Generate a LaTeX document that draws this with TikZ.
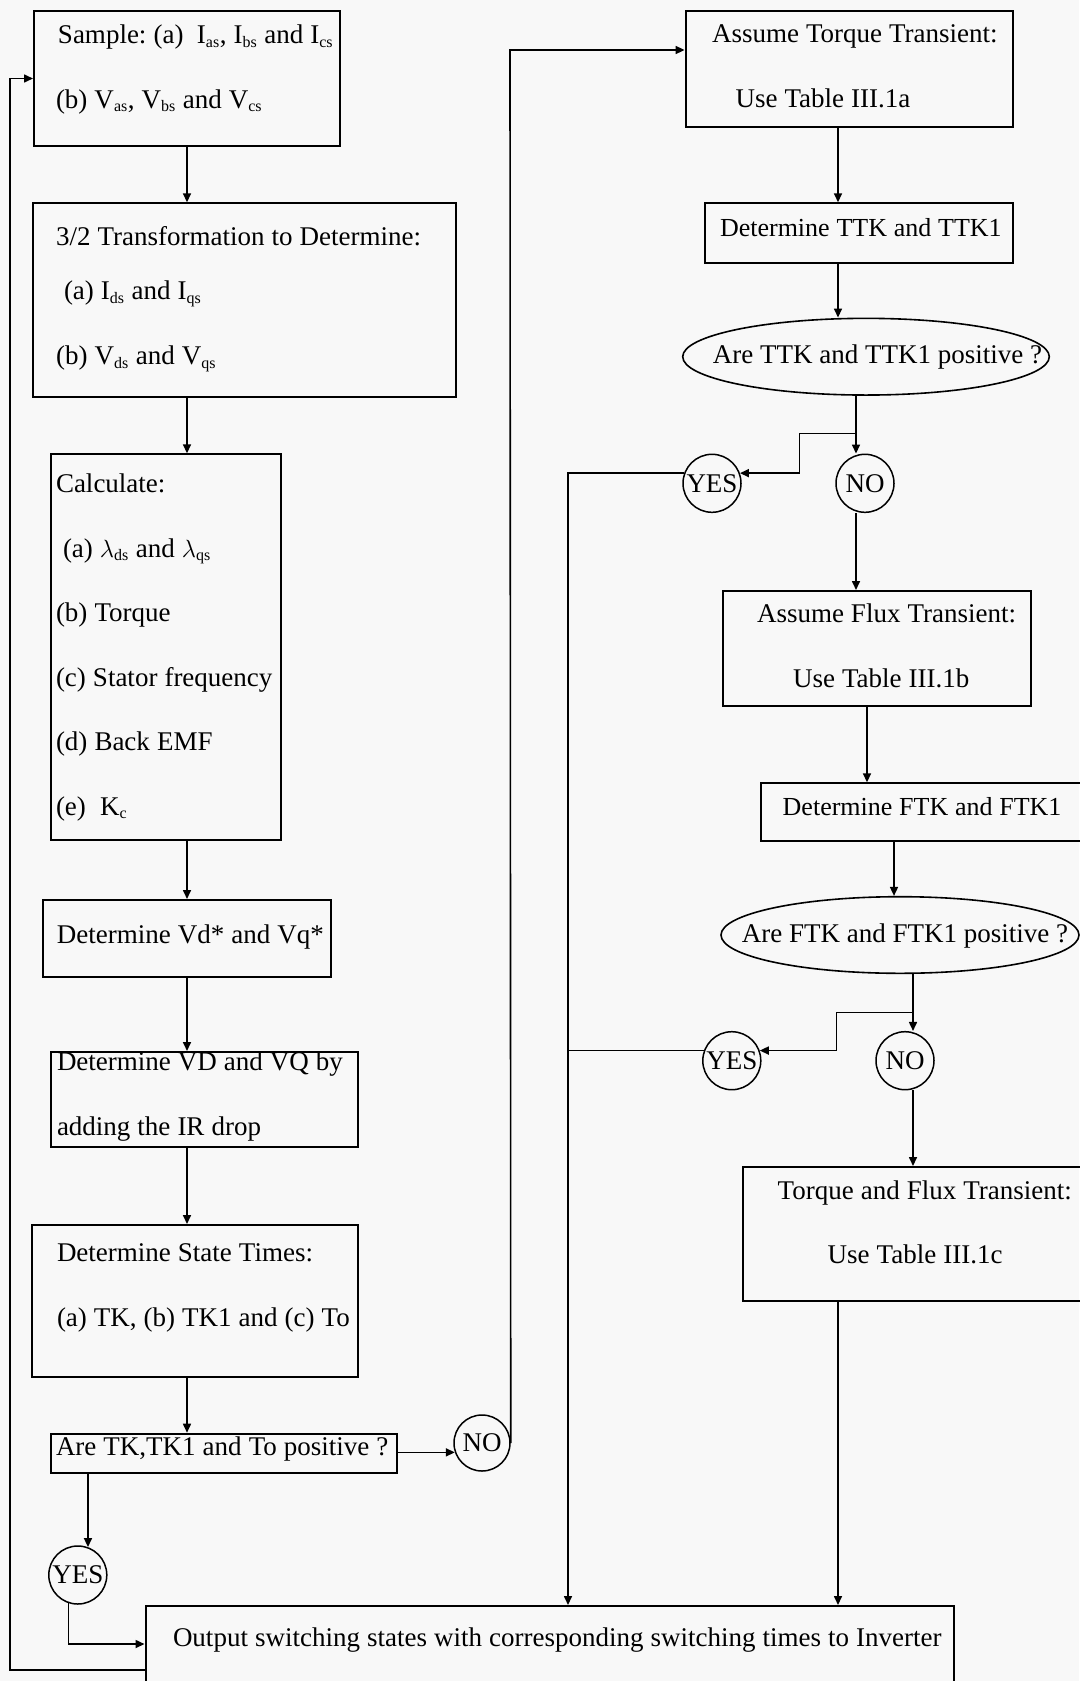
\documentclass[tikz,border=0pt]{standalone}
\usepackage{fontspec}
\setmainfont{Liberation Serif}
\usetikzlibrary{shapes.geometric,arrows.meta,calc}
\definecolor{paper}{RGB}{248,248,248}
\newcommand{\sbs}[1]{\textsubscript{\fontsize{16}{16}\selectfont #1}}

\begin{document}
\begin{tikzpicture}[x=1pt,y=-1pt,
  >={Triangle[length=9pt,width=8pt]},
  line width=1.6pt,
  box/.style={draw,rectangle,line width=2pt,anchor=north west,inner sep=0pt,align=left,
    font=\fontsize{27}{64.5}\selectfont\frenchspacing,
    execute at begin node={\spaceskip=0.26em plus 0.1em\relax}},
  ring/.style={draw,circle,line width=1.5pt,inner sep=0pt,minimum size=58pt,font=\fontsize{27}{32}\selectfont},
  oval/.style={draw,ellipse,line width=1.6pt,inner sep=0pt,text depth=0pt,font=\fontsize{27}{32}\selectfont}]

\useasboundingbox (0,0) rectangle (1079,1681);
\fill[paper] (0,0) rectangle (1079,1681);

% left column
\node[box,text width=306pt,text height=32.7pt,text depth=102.3pt] (smp) at (33,10)
  {\hspace*{24pt}\mbox{Sample: (a)\enspace I\sbs{as}, I\sbs{bs} and I\sbs{cs}}\\
   \hspace*{22pt}(b) V\sbs{as}, V\sbs{bs} and V\sbs{cs}};
\node[box,text width=422.8pt,text height=42pt,text depth=151.7pt] (tr) at (31.7,202.3)
  {\hspace*{23.4pt}3/2 Transformation to Determine:\\[-10pt]
   \hspace*{31.3pt}(a) I\sbs{ds} and I\sbs{qs}\\
   \hspace*{23.4pt}(b) V\sbs{ds} and V\sbs{qs}};
\node[box,text width=230pt,text height=38.4pt,text depth=347.6pt] (calc) at (50,453.3)
  {\hspace*{5pt}Calculate:\\
   \hspace*{12pt}(a) $\lambda$\sbs{ds} and $\lambda$\sbs{qs}\\
   \hspace*{5pt}(b) Torque\\
   \hspace*{5pt}\mbox{(c) Stator frequency}\\
   \hspace*{5pt}(d) Back EMF\\
   \hspace*{5pt}(e)\ \ K\sbs{c}};
\node[box,text width=287.6pt,text height=43.9pt,text depth=32.8pt] (vd) at (42.4,899)
  {\hspace*{13.6pt}Determine Vd* and Vq*};
\node[box,text width=307pt,text height=18.6pt,text depth=76.8pt] (vdq) at (50,1051)
  {\hspace*{6pt}\mbox{Determine VD and VQ by}\\
   \hspace*{6pt}adding the IR drop};
\node[box,text width=326pt,text height=36.7pt,text depth=115pt] (st) at (31,1224)
  {\hspace*{25pt}Determine State Times:\\
   \hspace*{25pt}\mbox{(a) TK, (b) TK1 and (c) To}};
\node[box,text width=346.5pt,text height=21.3pt,text depth=17.7pt] (are) at (49.5,1432.7)
  {\hspace*{5.5pt}\mbox{Are TK,TK1 and To positive ?}};
\node[box,text width=808.5pt,text height=40pt,text depth=36pt] (out) at (144.5,1605)
  {\hspace*{27.5pt}\mbox{Output switching states with corresponding switching times to Inverter}};

% right column
\node[box,text width=327.2pt,text height=31.7pt,text depth=84.3pt] (tq) at (684.6,10)
  {\hspace*{26.4pt}Assume Torque Transient:\\
   \hspace*{50pt}Use Table III.1a};
\node[box,text width=308.2pt,text height=32.7pt,text depth=26.7pt,font=\fontsize{26}{64.5}\selectfont] (ttk) at (703.6,202.3)
  {\hspace*{15.4pt}\mbox{Determine TTK and TTK1}};
\node[oval,minimum width=366.6pt,minimum height=76.7pt,text height=13.2pt] (q1) at (866,356.7)
  {\makebox[0pt]{\hspace{23pt}Are TTK and TTK1 positive ?}};
\node[ring] (yes1) at (712,483.3) {YES};
\node[ring] (no1) at (865,483.3) {NO};
\node[box,text width=308pt,text height=31.7pt,text depth=83.3pt] (fl) at (722,590)
  {\hspace*{34pt}Assume Flux Transient:\\
   \hspace*{70pt}Use Table III.1b};
\node[box,text width=330pt,text height=31.7pt,text depth=26pt,font=\fontsize{26}{64.5}\selectfont] (ftk) at (760,782.3)
  {\hspace*{21.7pt}\mbox{Determine FTK and FTK1}};
\node[oval,minimum width=358pt,minimum height=76.6pt,text height=15.4pt] (q2) at (900,935)
  {\makebox[0pt]{\hspace{10pt}Are FTK and FTK1 positive ?}};
\node[ring] (yes2) at (731.8,1060.7) {YES};
\node[ring] (no2) at (905,1060.7) {NO};
\node[box,text width=348.3pt,text height=32.3pt,text depth=101.7pt] (tf) at (741.7,1166)
  {\hspace*{35pt}Torque and Flux Transient:\\
   \hspace*{85pt}Use Table III.1c};

\node[ring,minimum size=56pt] (no3) at (482,1443) {NO};
\node[ring] (yes3) at (77.8,1575) {YES};

\coordinate (loop) at (10,1670);
\coordinate (nup) at (510,50);
\coordinate (colA) at (838,0);
\coordinate (bus) at (568,0);
\coordinate (br1) at (856,433.3);
\coordinate (jog1) at (799.5,433.3);
\coordinate (br2) at (913,1012.3);
\coordinate (jog2) at (836.3,1012.3);
\coordinate (c1) at ([xshift=-10pt]fl.south);
\coordinate (c2) at ([xshift=-6pt]q2.north);

% left column flow
\draw[->] (smp.south) -- (smp.south |- tr.north);
\draw[->] (tr.south -| smp.south) -- (calc.north -| smp.south);
\draw[->] (calc.south -| smp.south) -- (vd.north -| smp.south);
\draw[->] (vd.south -| smp.south) -- (vdq.north -| smp.south);
\draw[->] (vdq.south -| smp.south) -- (st.north -| smp.south);
\draw[->] (st.south -| smp.south) -- (are.north -| smp.south);
\draw[->] (are.south -| yes3.70) -- (yes3.70);
\draw[->] (yes3.252) |- (out.west);
\draw[->] (are.east |- no3.199) -- (no3.199);
\draw[->] (no3.east) -- (nup) -- (nup -| tq.west);
\draw[->] (out.south west |- loop) -- (loop) |- (smp.west);

% right column flow
\draw[->] (tq.south -| colA) -- (ttk.north -| colA);
\draw[->] (ttk.south -| colA) -- (q1.north -| colA);
\draw (q1.south -| br1) -- (br1);
\draw[->] (br1) -- (no1.north -| br1);
\draw[->] (br1) -- (jog1) |- (yes1.20);
\draw[->] (yes1.160) -| (bus |- out.north);
\draw[->] (no1.south -| br1) -- (fl.north -| br1);
\draw[->] (c1) -- (c1 |- ftk.north);
\draw[->] (c2 |- ftk.south) -- (c2);
\draw (q2.south -| br2) -- (br2);
\draw[->] (br2) -- (no2.north -| br2);
\draw[->] (br2) -- (jog2) |- (yes2.20);
\draw (yes2.160) -- (yes2.160 -| bus);
\draw[->] (no2.south -| br2) -- (tf.north -| br2);
\draw[->] (tf.south -| colA) -- (out.north -| colA);

\end{tikzpicture}
\end{document}
